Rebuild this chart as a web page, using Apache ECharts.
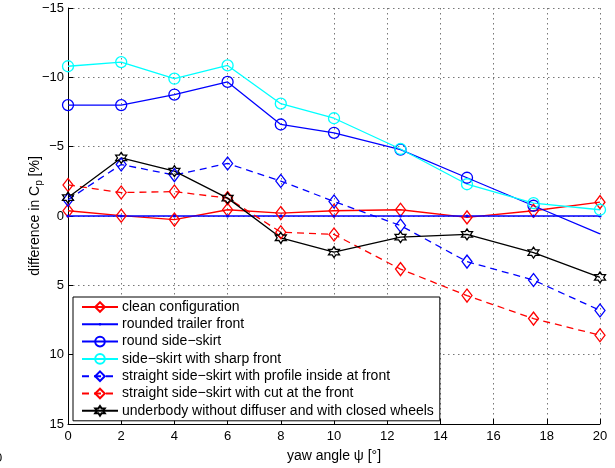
<!DOCTYPE html>
<html>
<head>
<meta charset="utf-8">
<script src="https://cdn.jsdelivr.net/npm/echarts@6/dist/echarts.min.js"></script>
<style>html,body{margin:0;padding:0;background:#fff;}#c{width:615px;height:468px;}</style>
</head>
<body>
<div id="c"></div>
<script>
var yaw = [0, 2, 4, 6, 8, 10, 12.5, 15, 17.5, 20];
var cleanCfg = [-0.38, -0.02, 0.26, -0.45, -0.21, -0.38, -0.45, 0.1, -0.38, -1.0];
var roundedFront = [0, 0, 0, 0, 0, 0, 0, 0, 0, 0];
var roundSkirt = [-8.0, -8.0, -8.76, -9.67, -6.6, -6.0, -4.79, -2.76, -0.74, 1.29];
var sharpSkirt = [-10.8, -11.1, -9.9, -10.86, -8.1, -7.05, -4.83, -2.29, -0.93, -0.45];
var profileSkirt = [-1.17, -3.71, -2.95, -3.79, -2.52, -1.05, 0.69, 3.29, 4.62, 6.81];
var cutSkirt = [-2.24, -1.69, -1.76, -1.29, 1.17, 1.33, 3.83, 5.74, 7.4, 8.6];
var underbody = [-1.33, -4.19, -3.24, -1.29, 1.57, 2.6, 1.52, 1.33, 2.64, 4.43];
var xTicks = [0, 2, 4, 6, 8, 10, 12, 14, 16, 18, 20];
var yTicks = [-15, -10, -5, 0, 5, 10, 15];
var names = ['clean configuration', 'rounded trailer front', 'round side\u2212skirt', 'side\u2212skirt with sharp front',
  'straight side\u2212skirt with profile inside at front', 'straight side\u2212skirt with cut at the front',
  'underbody without diffuser and with closed wheels'];

var hexagram = 'path://M0,-10 L2.887,-5 L8.66,-5 L5.774,0 L8.66,5 L2.887,5 L0,10 L-2.887,5 L-8.66,5 L-5.774,0 L-8.66,-5 L-2.887,-5 Z';
var dot = 'path://M-6,-6 M6,6 M-1.6,0 A1.6,1.6 0 1 1 1.6,0 A1.6,1.6 0 1 1 -1.6,0 Z';
function pairs(v, noMark){
  return yaw.map(function(x,i){
    var it = {value: [x, v[i]]};
    if (noMark && noMark.indexOf(i) >= 0) it.symbol = 'none';
    return it;
  });
}
var FONT = 'Liberation Sans, Arial, sans-serif';
function mk(name, vals, color, dash, symbol, size, fill, noMark){
  return {
    name: name, type: 'line', data: pairs(vals, noMark), symbol: symbol, symbolSize: size,
    showAllSymbol: true, animation: false,
    lineStyle: {color: color, width: 1.3, type: dash ? [7,5] : 'solid'},
    itemStyle: {color: fill ? color : 'rgba(255,255,255,0)', borderColor: color, borderWidth: fill ? 0 : 1.3},
    emphasis: {disabled: true}
  };
}
var chart = echarts.init(document.getElementById('c'), null, {renderer: 'canvas'});
chart.setOption({
  backgroundColor: '#fff',
  animation: false,
  grid: {left: 68, right: 15, top: 8, bottom: 40},
  xAxis: {
    type: 'value', min: 0, max: 20, interval: 2,
    name: 'yaw angle \u03c8 [\u00b0]', nameLocation: 'middle', nameGap: 25, nameMoveOverlap: false,
    nameTextStyle: {fontFamily: FONT, fontSize: 14, color: '#000'},
    axisLine: {onZero: false, lineStyle: {color: '#000', width: 1}},
    axisTick: {inside: true, length: 5, lineStyle: {color: '#000'}},
    axisLabel: {fontFamily: FONT, fontSize: 13, color: '#000', margin: 6,
      formatter: function(v){ return xTicks.indexOf(v) >= 0 ? String(v) : ''; }},
    splitLine: {show: true, lineStyle: {color: '#777', width: 1, type: [1.5, 3.5]}}
  },
  yAxis: {
    type: 'value', min: -15, max: 15, interval: 5, inverse: true,
    name: '{a|difference in C}{s|p}{a| [%]}', nameLocation: 'middle', nameGap: 24, nameRotate: 90,
    nameMoveOverlap: false,
    nameTextStyle: {fontFamily: FONT, fontSize: 14, color: '#000',
      rich: {a: {fontFamily: FONT, fontSize: 14, color: '#000', lineHeight: 16, verticalAlign: 'top'},
             s: {fontFamily: FONT, fontSize: 10, color: '#000', lineHeight: 16, verticalAlign: 'bottom', padding: [10,0,0,0]}}},
    axisLine: {onZero: false, lineStyle: {color: '#000', width: 1}},
    axisTick: {inside: true, length: 5, lineStyle: {color: '#000'}},
    axisLabel: {fontFamily: FONT, fontSize: 13, color: '#000', margin: 4,
      formatter: function(v){ return yTicks.indexOf(v) >= 0 ? String(v).replace('-', '\u2212') : ''; }},
    splitLine: {show: true, lineStyle: {color: '#777', width: 1, type: [1.5, 3.5]}}
  },
  legend: {
    orient: 'vertical', left: 73, top: 297,
    backgroundColor: '#fff', borderColor: '#000', borderWidth: 1,
    padding: [3, 6, 3, 8], itemGap: 3.3, itemWidth: 36, itemHeight: 12,
    textStyle: {fontFamily: FONT, fontSize: 14, color: '#000', padding: [0,0,0,-1]},
    data: names
  },
  series: [
    mk(names[0], cleanCfg, '#ff0000', false, 'diamond', [10, 13], false),
    mk(names[1], roundedFront, '#0000ff', false, dot, 12, true),
    mk(names[2], roundSkirt, '#0000ff', false, 'circle', 11, false, [9]),
    mk(names[3], sharpSkirt, '#00ffff', false, 'circle', 11, false),
    mk(names[4], profileSkirt, '#0000ff', true, 'diamond', [10, 13], false),
    mk(names[5], cutSkirt, '#ff0000', true, 'diamond', [10, 13], false),
    mk(names[6], underbody, '#000000', false, hexagram, 11, false)
  ],
  graphic: [{type: 'text', left: -5, top: 452, style: {text: '0', font: '13px Liberation Sans', fill: '#000'}}]
});
</script>
</body>
</html>
